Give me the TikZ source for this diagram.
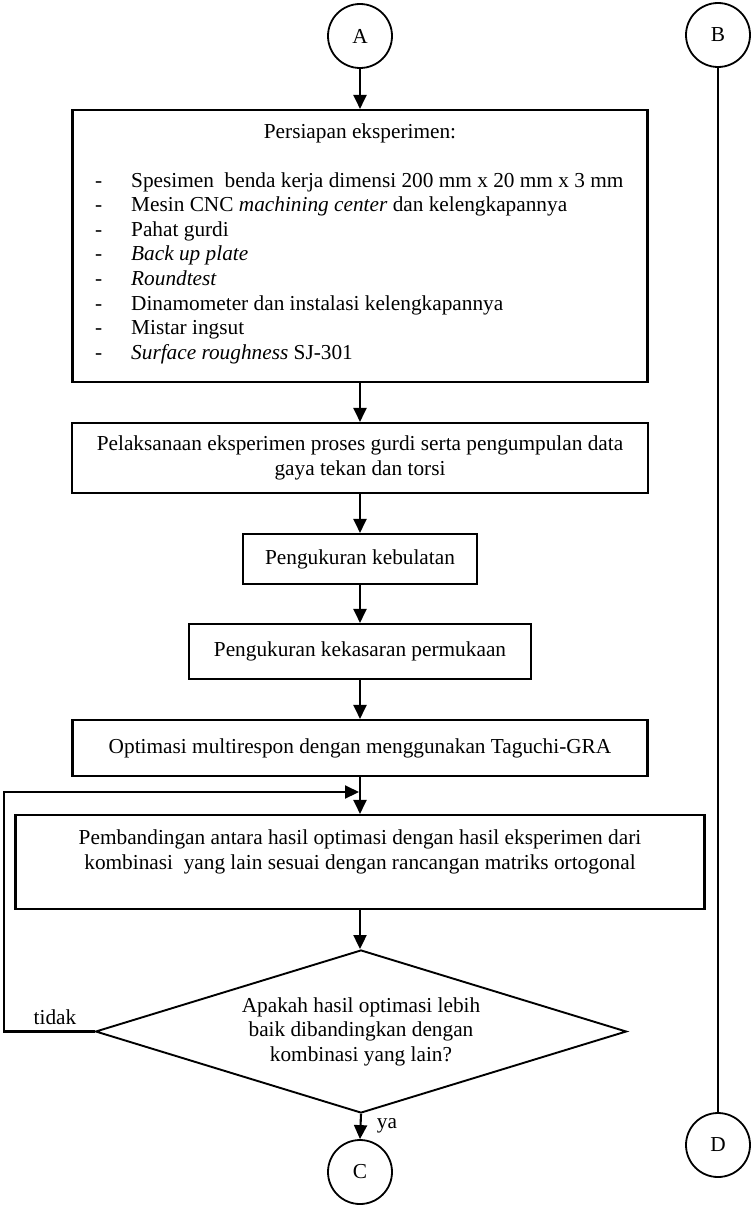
\documentclass[tikz,border=0pt]{standalone}
\usepackage{fontspec}
\setmainfont{Liberation Serif}
\usetikzlibrary{arrows.meta,shapes.geometric}
\begin{document}
\begin{tikzpicture}[x=1pt,y=-1pt,
  every node/.style={font=\fontsize{21.3}{24.6}\selectfont},
  conn/.style={line width=2.1pt},
  flow/.style={conn,-{Triangle[width=13pt,length=14pt]}},
  stepbox/.style={draw,line width=2.1pt,rectangle,inner sep=0pt,align=center},
  connector/.style={draw,circle,line width=1.8pt,minimum size=64pt,inner sep=0pt},
  decision/.style={draw,diamond,line width=1.9pt,inner sep=0pt,aspect=3.25,
    minimum width=531pt,minimum height=163pt,align=center},
  lbl/.style={inner sep=0pt}]
\useasboundingbox (0,0) rectangle (752,1207);

% off-page connectors
\node[connector] (A) at (360,36) {A};
\node[connector] (B) at (718,35) {B};
\node[connector] (C) at (360,1172) {C};
\node[connector] (D) at (718,1145) {D};

% preparation box with its checklist
\node[stepbox,minimum width=575pt,minimum height=272pt] (prep) at (360,246) {};
\node[lbl] (prepTitle) at (360,133) {Persiapan eksperimen:};
\node[lbl,anchor=base west] (prepList) at (95,187) {%
  \begin{tabular}[t]{@{}p{36pt}@{}l@{}}
  - & Spesimen\ \ benda kerja dimensi 200 mm x 20 mm x 3 mm\\
  - & Mesin CNC \textit{machining center} dan kelengkapannya\\
  - & Pahat gurdi\\
  - & \textit{Back up plate}\\
  - & \textit{Roundtest}\\
  - & Dinamometer dan instalasi kelengkapannya\\
  - & Mistar ingsut\\
  - & \textit{Surface roughness} SJ-301
  \end{tabular}};

% process steps
\node[stepbox,minimum width=576pt,minimum height=70pt] (exec) at (360,458)
  {Pelaksanaan eksperimen proses gurdi serta pengumpulan data\\gaya tekan dan torsi};
\node[stepbox,minimum width=234pt,minimum height=50pt] (round) at (360,559)
  {Pengukuran kebulatan};
\node[stepbox,minimum width=342pt,minimum height=55pt] (rough) at (360,651.5)
  {Pengukuran kekasaran permukaan};
\node[stepbox,minimum width=575pt,minimum height=56pt] (optim) at (360,748)
  {Optimasi multirespon dengan menggunakan Taguchi-GRA};
\node[stepbox,minimum width=689pt,minimum height=94pt] (compare) at (360,862) {};
\node[lbl,align=center] (compareText) at (360,852)
  {Pembandingan antara hasil optimasi dengan hasil eksperimen dari\\
   kombinasi\ \ yang lain sesuai dengan rancangan matriks ortogonal};

% decision
\node[decision] (check) at (361,1031.5)
  {Apakah hasil optimasi lebih\\baik dibandingkan dengan\\kombinasi yang lain?};
\node[lbl] (noLabel) at (55,1017) {tidak};
\node[lbl] (yesLabel) at (387,1126) {ya};

% connectors
\draw[flow] (A.south) -- (A.south |- prep.north);
\draw[flow] (prep.south) -- (exec.north);
\draw[flow] (exec.south) -- (round.north);
\draw[flow] (round.south) -- (rough.north);
\draw[flow] (rough.south) -- (optim.north);
\draw[flow] (optim.south) -- (compare.north);
\draw[flow] (compare.south) -- (compare.south |- check.north);
\draw[flow] (check.south) -- (C.north);

% feedback loop
\coordinate (loopBottom) at (4,1031.5);
\coordinate (loopTop) at (4,792);
\coordinate (loopEnd) at (359,792);
\draw[flow] (check.west) -- (loopBottom) -- (loopTop) -- (loopEnd);

% page link
\draw[conn] (B.south) -- (D.north);
\end{tikzpicture}
\end{document}
